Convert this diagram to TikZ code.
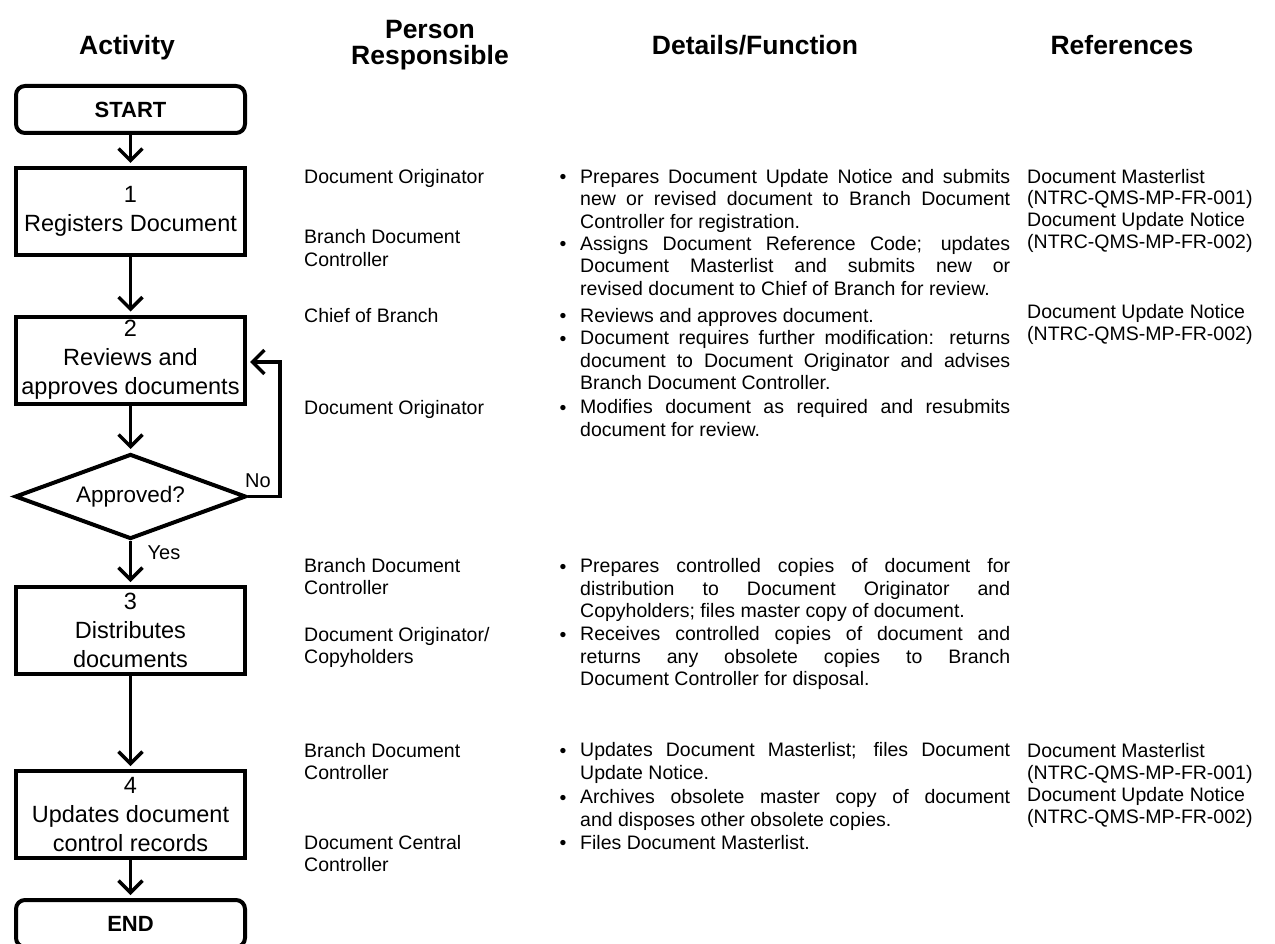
\documentclass[tikz,border=0pt]{standalone}
\usepackage{fontspec}
\setmainfont{Liberation Sans}
\usetikzlibrary{arrows.meta,shapes.geometric}
\newcommand\jl[1]{\makebox[430pt][s]{#1}}
\begin{document}
\begin{tikzpicture}[x=1pt,y=-1pt]
\tikzset{
 box/.style={draw, line width=4pt, minimum width=229pt, minimum height=87pt, inner sep=0pt, align=center, font=\fontsize{23.5}{29}\selectfont},
 term/.style={draw, line width=4pt, rounded corners=9pt, minimum width=229pt, minimum height=47pt, inner sep=0pt, font=\bfseries\fontsize{22}{26}\selectfont},
 dec/.style={draw, diamond, aspect=2.72, line width=4pt, minimum width=231pt, minimum height=85pt, inner sep=0pt, font=\fontsize{22.5}{26}\selectfont},
 arr/.style={line width=3.5pt, -{Straight Barb[length=12pt,width=24pt]}, shorten >=3pt},
 hdr/.style={font=\bfseries\fontsize{26.5}{26}\selectfont, align=center, anchor=base, inner sep=0pt},
 ptext/.style={font=\fontsize{19.5}{22}\selectfont, align=left, anchor=base west, inner sep=0pt},
 dtext/.style={font=\fontsize{19.5}{22.6}\selectfont, align=left, anchor=base west, inner sep=0pt},
 bul/.style={font=\fontsize{19.5}{22}\selectfont, anchor=base, inner sep=0pt},
 lbl/.style={font=\fontsize{20}{24}\selectfont, inner sep=0pt}
}
\useasboundingbox (0,0) rectangle (1275,944);
\fill[white] (0,0) rectangle (1275,944);

% headers (multi-line nodes: base = last line)
\node[hdr] (h1) at (127,55) {Activity};
\node[hdr] (h2) at (430,65) {Person\\Responsible};
\node[hdr] (h3) at (755,55) {Details/Function};
\node[hdr] (h4) at (1122,55) {References};

% flowchart
\node[term] (start) at (130.5,109.5) {START};
\node[box] (b1) at (130.5,211.5) {1\\Registers Document};
\node[box] (b2) at (130.5,360) {2\\Reviews and\\approves documents};
\node[dec] (d) at (130.5,496.5) {Approved?};
\node[box] (b3) at (130.5,630.5) {3\\Distributes\\documents};
\node[box] (b4) at (130.5,814.5) {4\\Updates document\\control records};
\node[term] (end) at (130.5,923.5) {END};

\draw[arr] (start) -- (b1);
\draw[arr] (b1) -- (b2);
\draw[arr] (b2) -- (d);
\draw[arr] (d) -- (b3);
\draw[arr] (b3) -- (b4);
\draw[arr] (b4) -- (end);
\coordinate (lp) at (280,362);
\draw[arr] (d.east) -| (lp) -- (b2.east |- lp);
\node[lbl] (no) at (258,481) {No};
\node[lbl] (yes) at (164,553) {Yes};

% person responsible (y = last baseline)
\node[ptext] (p1) at (304,184) {Document Originator};
\node[ptext] (p2) at (304,266) {Branch Document\\Controller};
\node[ptext] (p3) at (304,322) {Chief of Branch};
\node[ptext] (p4) at (304,414) {Document Originator};
\node[ptext] (p5) at (304,594) {Branch Document\\Controller};
\node[ptext] (p6) at (304,663) {Document Originator/\\Copyholders};
\node[ptext] (p7) at (304,779) {Branch Document\\Controller};
\node[ptext] (p8) at (304,871) {Document Central\\Controller};

% details
\foreach \yy/\nm in {184/k1,251/k2,322/k3,345/k4,414/k5,573/k6,641/k7,757/k8,804/k9,849/k10}
  \node[bul] (\nm) at (563,\yy) {\textbullet};
\node[dtext] (t1) at (580,228.6) {\jl{Prepares Document Update Notice and submits}\\\jl{new or revised document to Branch Document}\\Controller for registration.};
\node[dtext] (t2) at (580,295.6) {\jl{Assigns Document Reference Code; updates}\\\jl{Document Masterlist and submits new or}\\revised document to Chief of Branch for review.};
\node[dtext] (t3) at (580,322) {Reviews and approves document.};
\node[dtext] (t4) at (580,389.6) {\jl{Document requires further modification: returns}\\\jl{document to Document Originator and advises}\\Branch Document Controller.};
\node[dtext] (t5) at (580,436.3) {\jl{Modifies document as required and resubmits}\\document for review.};
\node[dtext] (t6) at (580,617.6) {\jl{Prepares controlled copies of document for}\\\jl{distribution to Document Originator and}\\Copyholders; files master copy of document.};
\node[dtext] (t7) at (580,685.6) {\jl{Receives controlled copies of document and}\\\jl{returns any obsolete copies to Branch}\\Document Controller for disposal.};
\node[dtext] (t8) at (580,779.3) {\jl{Updates Document Masterlist; files Document}\\Update Notice.};
\node[dtext] (t9) at (580,826.3) {\jl{Archives obsolete master copy of document}\\and disposes other obsolete copies.};
\node[dtext] (t10) at (580,849) {Files Document Masterlist.};

% references
\node[ptext] (r1) at (1027,249) {Document Masterlist\\(NTRC-QMS-MP-FR-001)\\Document Update Notice\\(NTRC-QMS-MP-FR-002)};
\node[ptext] (r2) at (1027,340) {Document Update Notice\\(NTRC-QMS-MP-FR-002)};
\node[ptext] (r3) at (1027,823) {Document Masterlist\\(NTRC-QMS-MP-FR-001)\\Document Update Notice\\(NTRC-QMS-MP-FR-002)};
\end{tikzpicture}
\end{document}
